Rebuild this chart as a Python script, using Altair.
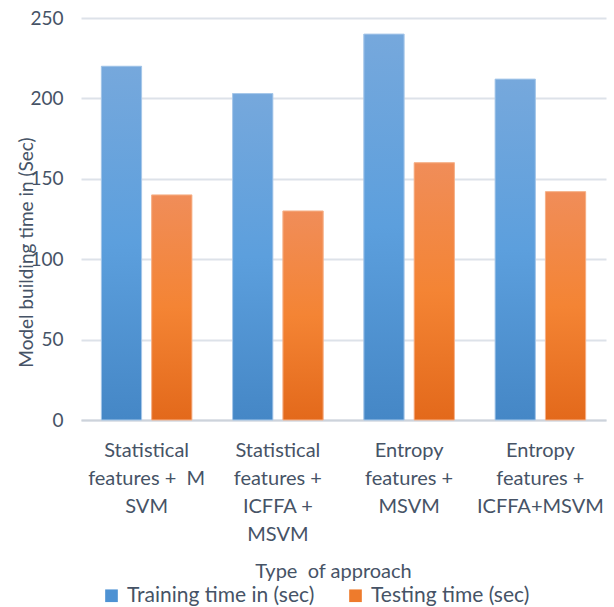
import altair as alt
import pandas as pd

NBSP = "\u00a0"

# Approaches (line breaks marked with "|") and measured times in seconds
approaches = [
    "Statistical|features +" + NBSP + " M|SVM",
    "Statistical|features +|ICFFA +|MSVM",
    "Entropy|features +|MSVM",
    "Entropy|features +|ICFFA+MSVM",
]
series_names = ["Training time in (sec)", "Testing time (sec)"]
training_time = [220, 203, 240, 212]
testing_time = [140, 130, 160, 142]
y_ticks = [0, 50, 100, 150, 200, 250]

rows = []
for a, tr, te in zip(approaches, training_time, testing_time):
    rows.append({"approach": a, "series": series_names[0], "time": tr})
    rows.append({"approach": a, "series": series_names[1], "time": te})
df = pd.DataFrame(rows)

FONT = "Lato"
TEXT = "#465366"
GRID = "#dde2e9"

blue_grad = alt.Gradient(
    gradient="linear", x1=0, x2=0, y1=0, y2=1,
    stops=[
        alt.GradientStop(color="#76a8dc", offset=0),
        alt.GradientStop(color="#5c9fdd", offset=0.5),
        alt.GradientStop(color="#4587c6", offset=1),
    ],
)
orange_grad = alt.Gradient(
    gradient="linear", x1=0, x2=0, y1=0, y2=1,
    stops=[
        alt.GradientStop(color="#f08d59", offset=0),
        alt.GradientStop(color="#f48434", offset=0.5),
        alt.GradientStop(color="#e3691b", offset=1),
    ],
)

base = alt.Chart(df).encode(
    x=alt.X(
        "approach:N",
        sort=approaches,
        scale=alt.Scale(paddingInner=0.31, paddingOuter=0.155),
        axis=alt.Axis(
            labelExpr="split(datum.label, '|')",
            labelAngle=0,
            labelFont=FONT,
            labelFontSize=20,
            labelColor=TEXT,
            labelLineHeight=28,
            labelPadding=20,
            labelLimit=200,
            ticks=False,
            grid=False,
            domainColor="#cdd3db",
            domainWidth=2,
            title="Type" + NBSP + " of approach",
            titleFont=FONT,
            titleFontSize=20,
            titleFontWeight="normal",
            titleColor=TEXT,
            titleX=252,
            titleY=151,
            titleBaseline="middle",
            titleAlign="center",
        ),
    ),
    xOffset=alt.XOffset(
        "series:N",
        sort=series_names,
        scale=alt.Scale(domain=series_names, paddingInner=0.2, paddingOuter=0),
    ),
    y=alt.Y(
        "time:Q",
        scale=alt.Scale(domain=[0, 250], nice=False),
        axis=alt.Axis(
            values=y_ticks,
            grid=True,
            gridColor=GRID,
            gridWidth=2,
            domain=False,
            ticks=False,
            labelFont=FONT,
            labelFontSize=19,
            labelColor=TEXT,
            labelPadding=18,
            title="Model building time in (Sec)",
            titleFont=FONT,
            titleFontSize=19,
            titleFontWeight="normal",
            titleColor=TEXT,
            titleX=-55,
            titleY=234,
            titleAngle=-90,
            titleAlign="center",
            titleBaseline="middle",
        ),
    ),
)

solid = base.mark_bar().encode(
    color=alt.Color(
        "series:N",
        sort=series_names,
        scale=alt.Scale(domain=series_names, range=["#4e92d3", "#ee7b2c"]),
        legend=alt.Legend(
            orient="none",
            legendX=20,
            legendY=567,
            direction="horizontal",
            title=None,
            symbolType="square",
            symbolSize=160,
            symbolStrokeWidth=0,
            labelFont=FONT,
            labelFontSize=21,
            labelColor=TEXT,
            labelOffset=5,
            labelLimit=300,
            columnPadding=30,
            padding=0,
        ),
    )
)

train_bars = base.transform_filter(
    alt.datum.series == series_names[0]
).mark_bar(fill=blue_grad, stroke="#a9c9ea", strokeWidth=1)

test_bars = base.transform_filter(
    alt.datum.series == series_names[1]
).mark_bar(fill=orange_grad, stroke="#f6b48d", strokeWidth=1)

chart = (
    alt.layer(solid, train_bars, test_bars)
    .properties(
        width=525,
        height=402,
        autosize=alt.AutoSizeParams(type="none"),
        padding={"left": 81, "top": 18, "right": 8, "bottom": 187},
        background="white",
    )
    .configure_view(stroke=None)
)

chart.save("out.html", embed_options={"renderer": "svg", "actions": False})
